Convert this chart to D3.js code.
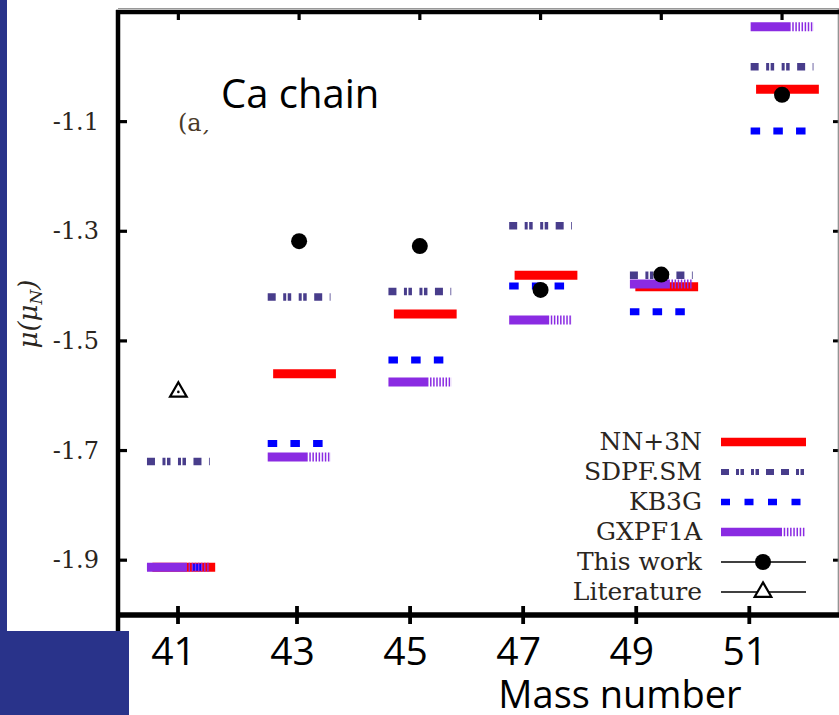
<!DOCTYPE html>
<html>
<head>
<meta charset="utf-8">
<script src="https://cdn.jsdelivr.net/npm/d3@7"></script>
<style>
  html, body { margin: 0; padding: 0; background: #fff; }
  svg { display: block; }
</style>
</head>
<body>
<div id="chart"></div>
<script>
// valeurs (moment magnétique, Ca)
const massNumbers = [41, 43, 45, 47, 49, 51];
const nn3n   = [-1.913, -1.560, -1.451, -1.380, -1.401, -1.041];
const sdpfsm = [-1.720, -1.420, -1.410, -1.290, -1.380, -1.000];
const kb3g   = [-1.913, -1.687, -1.535, -1.400, -1.447, -1.117];
const gxpf1a = [-1.913, -1.712, -1.575, -1.462, -1.396, -0.927];
const thisWorkMass = [43, 45, 47, 49, 51];
const thisWork     = [-1.318, -1.327, -1.407, -1.379, -1.051];
const literatureMass = [41];
const literature     = [-1.593];
const yTicks = [-1.9, -1.7, -1.5, -1.3, -1.1];
const legendLabels = ["NN+3N", "SDPF.SM", "KB3G", "GXPF1A", "This work", "Literature"];

const width = 839;
const height = 715;
const navy = "#29338a";
const serif = "DejaVu Serif, serif";
const sans = "Open Sans, sans-serif";

const svg = d3.select("#chart").append("svg")
    .attr("width", width)
    .attr("height", height);

// échelles
const x = d3.scaleLinear().domain([40, 52]).range([118, 842.4]);
const y = d3.scaleLinear().domain([-2.0, -0.9]).range([615, 12]);
// axe du bas (image collée par-dessus, échelle un peu différente)
const xb = d3.scaleLinear().domain([41, 43, 51]).range([178, 297, 749.3]);

svg.append("rect").attr("width", width).attr("height", height).attr("fill", "#fff");

// barres des modèles (ordre de tracé = ordre de la légende)
const half = 0.52;
const models = [
    { name: "NN+3N", values: nn3n, color: "#ff0000", width: 9, dash: null, offset: 0.09 },
    { name: "SDPF.SM", values: sdpfsm, color: "#483d8b", width: 7.5,
      dash: "8,7.5,3,1.5,3.5,7.5,3,1.5,3.5,7.5,8,7.5,8,7.5,3,1.5,3.5,7.5", offset: 0 },
    { name: "KB3G", values: kb3g, color: "#0000ff", width: 7, dash: "9.5,13.2", offset: 0 },
    { name: "GXPF1A", values: gxpf1a, color: "#8a2be2", width: 9,
      dash: "40,1.6,1.5,1.6,1.5,1.6,1.5,1.6,1.5,1.6,1.5,1.6,1.5,1.6,1.5,1", offset: 0 }
];

models.forEach(m => {
    svg.append("g").selectAll("line")
        .data(massNumbers.map((a, i) => ({ a, v: m.values[i] })))
        .join("line")
        .attr("x1", d => x(d.a - half + m.offset))
        .attr("x2", d => x(d.a + half + m.offset))
        .attr("y1", d => y(d.v))
        .attr("y2", d => y(d.v))
        .attr("stroke", m.color)
        .attr("stroke-width", m.width)
        .attr("stroke-dasharray", m.dash);
});

// points expérimentaux
svg.append("g").selectAll("circle")
    .data(thisWorkMass.map((a, i) => ({ a, v: thisWork[i] })))
    .join("circle")
    .attr("cx", d => x(d.a))
    .attr("cy", d => y(d.v))
    .attr("r", 8)
    .attr("fill", "#000");

const tri = d3.symbol(d3.symbolTriangle, 120);
const litG = svg.append("g").selectAll("g")
    .data(literatureMass.map((a, i) => ({ a, v: literature[i] })))
    .join("g")
    .attr("transform", d => `translate(${x(d.a)},${y(d.v)})`);
litG.append("path").attr("d", tri).attr("fill", "none").attr("stroke", "#000").attr("stroke-width", 2.2);
litG.append("circle").attr("r", 1.3).attr("fill", "#000");

// graduations (tracées à la main depuis les échelles)
const ticksG = svg.append("g").attr("stroke", "#000");
ticksG.selectAll(".tl").data(yTicks).join("line").attr("class", "tl")
    .attr("x1", 118).attr("x2", 127)
    .attr("y1", d => y(d)).attr("y2", d => y(d))
    .attr("stroke-width", 3.2);
ticksG.selectAll(".tr").data(yTicks).join("line").attr("class", "tr")
    .attr("x1", 839).attr("x2", 833)
    .attr("y1", d => y(d)).attr("y2", d => y(d))
    .attr("stroke-width", 3);
ticksG.selectAll(".tt").data(massNumbers).join("line").attr("class", "tt")
    .attr("x1", d => x(d)).attr("x2", d => x(d))
    .attr("y1", 12).attr("y2", 20)
    .attr("stroke-width", 3.2);
ticksG.selectAll(".tb").data(massNumbers).join("line").attr("class", "tb")
    .attr("x1", d => xb(d)).attr("x2", d => xb(d))
    .attr("y1", 606).attr("y2", 624)
    .attr("stroke-width", 3.8);

// étiquettes de l'axe y
const yLabels = svg.append("g")
    .attr("transform", "translate(118,0)")
    .call(d3.axisLeft(y).tickValues(yTicks).tickSize(0).tickPadding(19).tickFormat(d => d.toFixed(1)));
yLabels.select(".domain").remove();
yLabels.selectAll("text")
    .attr("font-family", serif)
    .attr("font-size", 24)
    .attr("fill", "#2a2520");

// cadre
svg.append("line").attr("x1", 118).attr("x2", 839).attr("y1", 8.5).attr("y2", 8.5)
    .attr("stroke", "#999").attr("stroke-width", 1);
svg.append("line").attr("x1", 838.3).attr("x2", 838.3).attr("y1", 9).attr("y2", 615)
    .attr("stroke", "#888").attr("stroke-width", 1.2);
svg.append("line").attr("x1", 116).attr("x2", 839).attr("y1", 12).attr("y2", 12)
    .attr("stroke", "#000").attr("stroke-width", 4.5);
svg.append("line").attr("x1", 118).attr("x2", 118).attr("y1", 10).attr("y2", 632)
    .attr("stroke", "#000").attr("stroke-width", 4.5);
svg.append("line").attr("x1", 116).attr("x2", 839).attr("y1", 615).attr("y2", 615)
    .attr("stroke", "#000").attr("stroke-width", 5.5);

// étiquettes du bas (superposées)
const bottomAxis = svg.append("g")
    .attr("transform", "translate(0,615)")
    .call(d3.axisBottom(xb).tickValues(massNumbers).tickSize(0).tickFormat(d => d));
bottomAxis.select(".domain").remove();
bottomAxis.selectAll(".tick line").remove();
bottomAxis.selectAll(".tick text")
    .attr("y", 22)
    .attr("dy", "0.71em")
    .attr("dx", -5)
    .attr("font-family", sans)
    .attr("font-size", 39)
    .attr("fill", "#000");

svg.append("text")
    .attr("x", 620).attr("y", 708)
    .attr("text-anchor", "middle")
    .attr("font-family", sans)
    .attr("font-size", 38)
    .attr("fill", "#000")
    .text("Mass number");

// titre de l'axe y
const yTitle = svg.append("text")
    .attr("transform", "translate(37,314) rotate(-90)")
    .attr("text-anchor", "middle")
    .attr("font-family", serif)
    .attr("font-style", "italic")
    .attr("font-size", 26)
    .attr("fill", "#2a2520");
yTitle.append("tspan").text("μ(μ");
yTitle.append("tspan").attr("font-size", 17).attr("dy", 5).text("N");
yTitle.append("tspan").attr("dy", -5).text(")");

// étiquette (a) partiellement masquée par la zone de texte
svg.append("text")
    .attr("x", 178).attr("y", 131)
    .attr("font-family", serif)
    .attr("font-size", 24)
    .attr("fill", "#4a3a2a")
    .text("(a)");
svg.append("rect").attr("x", 201).attr("y", 40).attr("width", 190).attr("height", 90).attr("fill", "#fff");
svg.append("text")
    .attr("x", 221).attr("y", 108)
    .attr("font-family", sans)
    .attr("font-size", 40)
    .attr("fill", "#000")
    .text("Ca chain");

// légende
const legY = d3.scalePoint().domain(legendLabels).range([442, 592]);
const lx0 = 721, lx1 = 806, lxm = 763;
const legend = svg.append("g");
legend.selectAll("text")
    .data(legendLabels)
    .join("text")
    .attr("x", 702)
    .attr("y", d => legY(d) + 8)
    .attr("text-anchor", "end")
    .attr("font-family", serif)
    .attr("font-size", 25)
    .attr("fill", "#2a2520")
    .text(d => d);

const legendDash = {
    "NN+3N": null,
    "SDPF.SM": "8,7,3,1.5,3.5,7,3,1.5,3.5,7,8,7,8,7,3,1.5,3.5,7",
    "KB3G": "9,14.5",
    "GXPF1A": "61,1.7,1.5,1.7,1.5,1.7,1.5,1.7,1.5,1.7,1.5,1.7,1.5,1.7,1.5,10"
};
models.forEach(m => {
    legend.append("line")
        .attr("x1", lx0).attr("x2", lx1)
        .attr("y1", legY(m.name)).attr("y2", legY(m.name))
        .attr("stroke", m.color)
        .attr("stroke-width", m.name === "SDPF.SM" ? 6 : (m.name === "KB3G" ? 6.5 : 8.5))
        .attr("stroke-dasharray", legendDash[m.name]);
});
["This work", "Literature"].forEach(name => {
    legend.append("line")
        .attr("x1", lx0).attr("x2", lx1)
        .attr("y1", legY(name)).attr("y2", legY(name))
        .attr("stroke", "#000").attr("stroke-width", 1.4);
});
legend.append("circle").attr("cx", lxm).attr("cy", legY("This work")).attr("r", 8).attr("fill", "#000");
legend.append("path")
    .attr("transform", `translate(${lxm},${legY("Literature")})`)
    .attr("d", tri)
    .attr("fill", "#fff").attr("stroke", "#000").attr("stroke-width", 2.2);

// bandes bleues du diaporama
svg.append("rect").attr("x", 0).attr("y", 0).attr("width", 7).attr("height", height).attr("fill", navy);
svg.append("rect").attr("x", 0).attr("y", 631).attr("width", 129).attr("height", 84).attr("fill", navy);
</script>
</body>
</html>
